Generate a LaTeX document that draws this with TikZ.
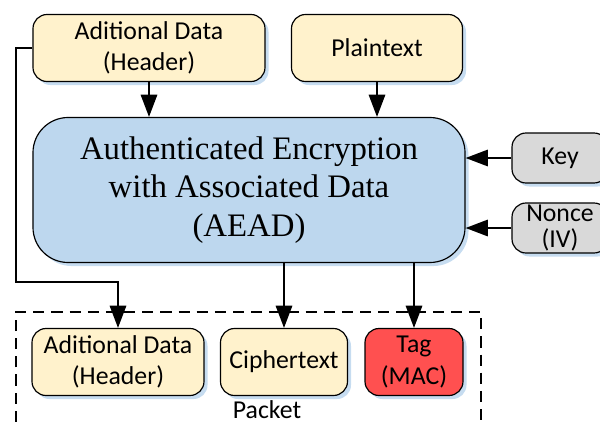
\documentclass[tikz,border=0pt]{standalone}
\usepackage{fontspec}
\setmainfont{Carlito}
\newfontfamily\aeadfont{Liberation Serif}
\usetikzlibrary{arrows.meta,shadows}

\definecolor{datafill}{HTML}{FFF2CC}
\definecolor{aeadfill}{HTML}{BDD7EE}
\definecolor{keyfill}{HTML}{D9D9D9}
\definecolor{tagfill}{HTML}{FF5050}
\definecolor{shadowblue}{HTML}{5B9BD5}

\begin{document}
\begin{tikzpicture}[x=0.03cm, y=-0.03cm,
        box/.style={draw, line width=1pt, rounded corners=12pt, align=center,
                    inner sep=0pt, minimum height=2.01cm,
                    font=\fontsize{22}{27}\selectfont,
                    drop shadow={shadow xshift=3pt, shadow yshift=-3pt,
                                 fill=shadowblue, opacity=0.35}},
        databox/.style={box, fill=datafill},
        sidebox/.style={box, fill=keyfill, minimum height=1.5cm},
        arr/.style={line width=1.6pt, -{Triangle[length=19pt, width=14pt]}}]
                    \useasboundingbox (0,0) rectangle (600,424);
                    % Inputs
                    \node[databox, minimum width=6.96cm] (adtop) at (149,48)
                        {Aditional Data\\(Header)};
                    \node[databox, minimum width=5.13cm] (plain) at (377,48)
                        {Plaintext};
                    % AEAD
                    \node[box, fill=aeadfill, minimum width=12.96cm, minimum height=4.35cm,
                          rounded corners=30pt, font=\aeadfont\fontsize{28}{33}\selectfont]
                        (aead) at (249,190)
                        {Authenticated Encryption\\with Associated Data\\(AEAD)};
                    \node[sidebox, minimum width=2.88cm] (key) at (560,158) {Key};
                    \node[sidebox, minimum width=2.88cm, font=\fontsize{22}{22}\selectfont]
                        (nonce) at (560,228) {Nonce\\(IV)};
                    % Packet
                    \draw[line width=1.8pt, dash pattern=on 9.5pt off 6pt]
                       (16,440)
                    -- (16,312)
                    -- (481,312)
                    -- (481,440);
                    \node[databox, minimum width=5.16cm] (adbot) at (118,362)
                        {Aditional Data\\(Header)};
                    \node[databox, minimum width=3.81cm] (cipher) at (284,362)
                        {Ciphertext};
                    \node[box, fill=tagfill, minimum width=2.94cm] (tag) at (414,362)
                        {Tag\\(MAC)};
                    \node[font=\fontsize{22}{27}\selectfont] (packet) at (267,410) {Packet};
                    % Arrows
                    \coordinate (bend) at (16,282);
                    \draw[arr] (adtop.south) -- (adtop.south |- aead.north);
                    \draw[arr] (plain.south) -- (plain.south |- aead.north);
                    \draw[arr] (key.west) -- (key.west -| aead.east);
                    \draw[arr] (nonce.west) -- (nonce.west -| aead.east);
                    \draw[arr] (adtop.west) -| (bend) -| (adbot.north);
                    \draw[arr] (cipher.north |- aead.south) -- (cipher.north);
                    \draw[arr] (tag.north |- aead.south) -- (tag.north);
                \end{tikzpicture}
\end{document}
